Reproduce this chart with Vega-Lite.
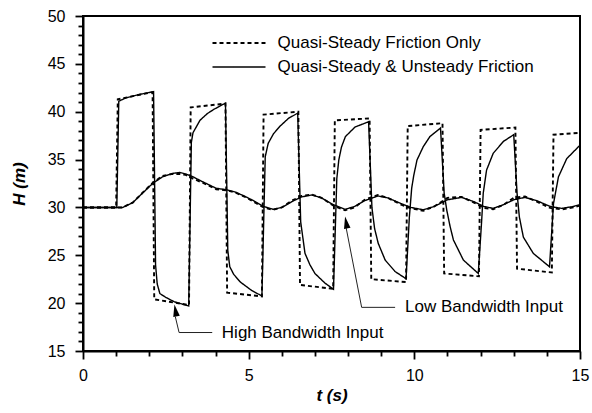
{
  "$schema": "https://vega.github.io/schema/vega-lite/v6.json",
  "width": 497,
  "height": 335,
  "autosize": {"type": "none"},
  "padding": {"left": 83, "top": 16, "right": 12, "bottom": 62},
  "background": "white",
  "config": {
    "view": {"stroke": "black", "strokeWidth": 2},
    "axis": {
      "domainColor": "black", "domainWidth": 2,
      "tickColor": "black", "tickWidth": 1.8,
      "labelFont": "Liberation Sans", "labelFontSize": 16, "labelColor": "black",
      "titleFont": "Liberation Sans", "titleFontSize": 17, "titleFontWeight": "bold", "titleFontStyle": "italic", "titleColor": "black",
      "grid": false
    },
    "legend": {
      "labelFont": "Liberation Sans", "labelFontSize": 17, "labelColor": "black", "labelLimit": 0
    }
  },
  "datasets": {
    "curves": [
      {"t": 0, "H": 30, "model": "Quasi-Steady Friction Only", "input": "High"},
      {"t": 1.0, "H": 30, "model": "Quasi-Steady Friction Only", "input": "High"},
      {"t": 1.05, "H": 41.3, "model": "Quasi-Steady Friction Only", "input": "High"},
      {"t": 2.1, "H": 42.05, "model": "Quasi-Steady Friction Only", "input": "High"},
      {"t": 2.15, "H": 20.4, "model": "Quasi-Steady Friction Only", "input": "High"},
      {"t": 3.2, "H": 19.8, "model": "Quasi-Steady Friction Only", "input": "High"},
      {"t": 3.25, "H": 40.45, "model": "Quasi-Steady Friction Only", "input": "High"},
      {"t": 4.3, "H": 40.85, "model": "Quasi-Steady Friction Only", "input": "High"},
      {"t": 4.35, "H": 21.1, "model": "Quasi-Steady Friction Only", "input": "High"},
      {"t": 5.4, "H": 20.7, "model": "Quasi-Steady Friction Only", "input": "High"},
      {"t": 5.45, "H": 39.7, "model": "Quasi-Steady Friction Only", "input": "High"},
      {"t": 6.5, "H": 40.0, "model": "Quasi-Steady Friction Only", "input": "High"},
      {"t": 6.55, "H": 21.9, "model": "Quasi-Steady Friction Only", "input": "High"},
      {"t": 7.55, "H": 21.5, "model": "Quasi-Steady Friction Only", "input": "High"},
      {"t": 7.6, "H": 39.1, "model": "Quasi-Steady Friction Only", "input": "High"},
      {"t": 8.65, "H": 39.3, "model": "Quasi-Steady Friction Only", "input": "High"},
      {"t": 8.7, "H": 22.5, "model": "Quasi-Steady Friction Only", "input": "High"},
      {"t": 9.75, "H": 22.2, "model": "Quasi-Steady Friction Only", "input": "High"},
      {"t": 9.8, "H": 38.5, "model": "Quasi-Steady Friction Only", "input": "High"},
      {"t": 10.85, "H": 38.8, "model": "Quasi-Steady Friction Only", "input": "High"},
      {"t": 10.9, "H": 23.1, "model": "Quasi-Steady Friction Only", "input": "High"},
      {"t": 11.95, "H": 22.8, "model": "Quasi-Steady Friction Only", "input": "High"},
      {"t": 12.0, "H": 38.1, "model": "Quasi-Steady Friction Only", "input": "High"},
      {"t": 13.05, "H": 38.35, "model": "Quasi-Steady Friction Only", "input": "High"},
      {"t": 13.1, "H": 23.6, "model": "Quasi-Steady Friction Only", "input": "High"},
      {"t": 14.15, "H": 23.2, "model": "Quasi-Steady Friction Only", "input": "High"},
      {"t": 14.2, "H": 37.6, "model": "Quasi-Steady Friction Only", "input": "High"},
      {"t": 15.0, "H": 37.8, "model": "Quasi-Steady Friction Only", "input": "High"},

      {"t": 0, "H": 30, "model": "Quasi-Steady & Unsteady Friction", "input": "High"},
      {"t": 1.02, "H": 30, "model": "Quasi-Steady & Unsteady Friction", "input": "High"},
      {"t": 1.08, "H": 41.1, "model": "Quasi-Steady & Unsteady Friction", "input": "High"},
      {"t": 1.3, "H": 41.45, "model": "Quasi-Steady & Unsteady Friction", "input": "High"},
      {"t": 1.7, "H": 41.8, "model": "Quasi-Steady & Unsteady Friction", "input": "High"},
      {"t": 2.13, "H": 42.1, "model": "Quasi-Steady & Unsteady Friction", "input": "High"},
      {"t": 2.19, "H": 24.0, "model": "Quasi-Steady & Unsteady Friction", "input": "High"},
      {"t": 2.24, "H": 22.0, "model": "Quasi-Steady & Unsteady Friction", "input": "High"},
      {"t": 2.32, "H": 21.0, "model": "Quasi-Steady & Unsteady Friction", "input": "High"},
      {"t": 2.5, "H": 20.6, "model": "Quasi-Steady & Unsteady Friction", "input": "High"},
      {"t": 2.75, "H": 20.15, "model": "Quasi-Steady & Unsteady Friction", "input": "High"},
      {"t": 3.19, "H": 19.7, "model": "Quasi-Steady & Unsteady Friction", "input": "High"},
      {"t": 3.27, "H": 36.8, "model": "Quasi-Steady & Unsteady Friction", "input": "High"},
      {"t": 3.32, "H": 37.8, "model": "Quasi-Steady & Unsteady Friction", "input": "High"},
      {"t": 3.53, "H": 39.1, "model": "Quasi-Steady & Unsteady Friction", "input": "High"},
      {"t": 3.75, "H": 39.8, "model": "Quasi-Steady & Unsteady Friction", "input": "High"},
      {"t": 3.95, "H": 40.25, "model": "Quasi-Steady & Unsteady Friction", "input": "High"},
      {"t": 4.3, "H": 40.9, "model": "Quasi-Steady & Unsteady Friction", "input": "High"},
      {"t": 4.37, "H": 25.5, "model": "Quasi-Steady & Unsteady Friction", "input": "High"},
      {"t": 4.43, "H": 23.8, "model": "Quasi-Steady & Unsteady Friction", "input": "High"},
      {"t": 4.55, "H": 23.0, "model": "Quasi-Steady & Unsteady Friction", "input": "High"},
      {"t": 4.75, "H": 22.2, "model": "Quasi-Steady & Unsteady Friction", "input": "High"},
      {"t": 5.1, "H": 21.3, "model": "Quasi-Steady & Unsteady Friction", "input": "High"},
      {"t": 5.4, "H": 20.75, "model": "Quasi-Steady & Unsteady Friction", "input": "High"},
      {"t": 5.5, "H": 35.3, "model": "Quasi-Steady & Unsteady Friction", "input": "High"},
      {"t": 5.59, "H": 36.7, "model": "Quasi-Steady & Unsteady Friction", "input": "High"},
      {"t": 5.75, "H": 37.7, "model": "Quasi-Steady & Unsteady Friction", "input": "High"},
      {"t": 5.95, "H": 38.5, "model": "Quasi-Steady & Unsteady Friction", "input": "High"},
      {"t": 6.2, "H": 39.3, "model": "Quasi-Steady & Unsteady Friction", "input": "High"},
      {"t": 6.48, "H": 39.85, "model": "Quasi-Steady & Unsteady Friction", "input": "High"},
      {"t": 6.57, "H": 28.5, "model": "Quasi-Steady & Unsteady Friction", "input": "High"},
      {"t": 6.7, "H": 25.2, "model": "Quasi-Steady & Unsteady Friction", "input": "High"},
      {"t": 6.85, "H": 24.0, "model": "Quasi-Steady & Unsteady Friction", "input": "High"},
      {"t": 7.0, "H": 23.1, "model": "Quasi-Steady & Unsteady Friction", "input": "High"},
      {"t": 7.3, "H": 22.1, "model": "Quasi-Steady & Unsteady Friction", "input": "High"},
      {"t": 7.56, "H": 21.45, "model": "Quasi-Steady & Unsteady Friction", "input": "High"},
      {"t": 7.66, "H": 33.0, "model": "Quasi-Steady & Unsteady Friction", "input": "High"},
      {"t": 7.72, "H": 34.95, "model": "Quasi-Steady & Unsteady Friction", "input": "High"},
      {"t": 7.8, "H": 36.3, "model": "Quasi-Steady & Unsteady Friction", "input": "High"},
      {"t": 7.92, "H": 37.4, "model": "Quasi-Steady & Unsteady Friction", "input": "High"},
      {"t": 8.21, "H": 38.4, "model": "Quasi-Steady & Unsteady Friction", "input": "High"},
      {"t": 8.62, "H": 38.95, "model": "Quasi-Steady & Unsteady Friction", "input": "High"},
      {"t": 8.72, "H": 30.0, "model": "Quasi-Steady & Unsteady Friction", "input": "High"},
      {"t": 8.8, "H": 27.8, "model": "Quasi-Steady & Unsteady Friction", "input": "High"},
      {"t": 8.91, "H": 26.25, "model": "Quasi-Steady & Unsteady Friction", "input": "High"},
      {"t": 9.12, "H": 24.5, "model": "Quasi-Steady & Unsteady Friction", "input": "High"},
      {"t": 9.42, "H": 23.3, "model": "Quasi-Steady & Unsteady Friction", "input": "High"},
      {"t": 9.75, "H": 22.55, "model": "Quasi-Steady & Unsteady Friction", "input": "High"},
      {"t": 9.85, "H": 29.0, "model": "Quasi-Steady & Unsteady Friction", "input": "High"},
      {"t": 9.92, "H": 32.0, "model": "Quasi-Steady & Unsteady Friction", "input": "High"},
      {"t": 9.98, "H": 33.3, "model": "Quasi-Steady & Unsteady Friction", "input": "High"},
      {"t": 10.08, "H": 34.95, "model": "Quasi-Steady & Unsteady Friction", "input": "High"},
      {"t": 10.27, "H": 36.35, "model": "Quasi-Steady & Unsteady Friction", "input": "High"},
      {"t": 10.47, "H": 37.4, "model": "Quasi-Steady & Unsteady Friction", "input": "High"},
      {"t": 10.79, "H": 38.3, "model": "Quasi-Steady & Unsteady Friction", "input": "High"},
      {"t": 10.9, "H": 31.5, "model": "Quasi-Steady & Unsteady Friction", "input": "High"},
      {"t": 10.98, "H": 29.7, "model": "Quasi-Steady & Unsteady Friction", "input": "High"},
      {"t": 11.08, "H": 28.0, "model": "Quasi-Steady & Unsteady Friction", "input": "High"},
      {"t": 11.18, "H": 26.6, "model": "Quasi-Steady & Unsteady Friction", "input": "High"},
      {"t": 11.48, "H": 24.5, "model": "Quasi-Steady & Unsteady Friction", "input": "High"},
      {"t": 11.93, "H": 23.1, "model": "Quasi-Steady & Unsteady Friction", "input": "High"},
      {"t": 12.03, "H": 28.5, "model": "Quasi-Steady & Unsteady Friction", "input": "High"},
      {"t": 12.08, "H": 31.5, "model": "Quasi-Steady & Unsteady Friction", "input": "High"},
      {"t": 12.18, "H": 33.9, "model": "Quasi-Steady & Unsteady Friction", "input": "High"},
      {"t": 12.38, "H": 35.65, "model": "Quasi-Steady & Unsteady Friction", "input": "High"},
      {"t": 12.69, "H": 36.9, "model": "Quasi-Steady & Unsteady Friction", "input": "High"},
      {"t": 13.0, "H": 37.6, "model": "Quasi-Steady & Unsteady Friction", "input": "High"},
      {"t": 13.1, "H": 31.5, "model": "Quasi-Steady & Unsteady Friction", "input": "High"},
      {"t": 13.17, "H": 29.0, "model": "Quasi-Steady & Unsteady Friction", "input": "High"},
      {"t": 13.29, "H": 26.9, "model": "Quasi-Steady & Unsteady Friction", "input": "High"},
      {"t": 13.59, "H": 25.2, "model": "Quasi-Steady & Unsteady Friction", "input": "High"},
      {"t": 14.08, "H": 23.8, "model": "Quasi-Steady & Unsteady Friction", "input": "High"},
      {"t": 14.2, "H": 30.4, "model": "Quasi-Steady & Unsteady Friction", "input": "High"},
      {"t": 14.35, "H": 33.2, "model": "Quasi-Steady & Unsteady Friction", "input": "High"},
      {"t": 14.6, "H": 35.1, "model": "Quasi-Steady & Unsteady Friction", "input": "High"},
      {"t": 15.0, "H": 36.5, "model": "Quasi-Steady & Unsteady Friction", "input": "High"},

      {"t": 0, "H": 30, "model": "Quasi-Steady & Unsteady Friction", "input": "Low"},
      {"t": 1.2, "H": 30, "model": "Quasi-Steady & Unsteady Friction", "input": "Low"},
      {"t": 1.5, "H": 30.5, "model": "Quasi-Steady & Unsteady Friction", "input": "Low"},
      {"t": 1.8, "H": 31.5, "model": "Quasi-Steady & Unsteady Friction", "input": "Low"},
      {"t": 2.1, "H": 32.5, "model": "Quasi-Steady & Unsteady Friction", "input": "Low"},
      {"t": 2.4, "H": 33.2, "model": "Quasi-Steady & Unsteady Friction", "input": "Low"},
      {"t": 2.7, "H": 33.55, "model": "Quasi-Steady & Unsteady Friction", "input": "Low"},
      {"t": 2.92, "H": 33.65, "model": "Quasi-Steady & Unsteady Friction", "input": "Low"},
      {"t": 3.1, "H": 33.5, "model": "Quasi-Steady & Unsteady Friction", "input": "Low"},
      {"t": 3.32, "H": 33.2, "model": "Quasi-Steady & Unsteady Friction", "input": "Low"},
      {"t": 3.6, "H": 32.7, "model": "Quasi-Steady & Unsteady Friction", "input": "Low"},
      {"t": 4.02, "H": 32.0, "model": "Quasi-Steady & Unsteady Friction", "input": "Low"},
      {"t": 4.32, "H": 31.85, "model": "Quasi-Steady & Unsteady Friction", "input": "Low"},
      {"t": 4.6, "H": 31.6, "model": "Quasi-Steady & Unsteady Friction", "input": "Low"},
      {"t": 4.89, "H": 31.15, "model": "Quasi-Steady & Unsteady Friction", "input": "Low"},
      {"t": 5.15, "H": 30.7, "model": "Quasi-Steady & Unsteady Friction", "input": "Low"},
      {"t": 5.45, "H": 30.1, "model": "Quasi-Steady & Unsteady Friction", "input": "Low"},
      {"t": 5.74, "H": 29.8, "model": "Quasi-Steady & Unsteady Friction", "input": "Low"},
      {"t": 6.0, "H": 30.0, "model": "Quasi-Steady & Unsteady Friction", "input": "Low"},
      {"t": 6.3, "H": 30.6, "model": "Quasi-Steady & Unsteady Friction", "input": "Low"},
      {"t": 6.6, "H": 31.1, "model": "Quasi-Steady & Unsteady Friction", "input": "Low"},
      {"t": 6.9, "H": 31.3, "model": "Quasi-Steady & Unsteady Friction", "input": "Low"},
      {"t": 7.2, "H": 31.0, "model": "Quasi-Steady & Unsteady Friction", "input": "Low"},
      {"t": 7.55, "H": 30.3, "model": "Quasi-Steady & Unsteady Friction", "input": "Low"},
      {"t": 7.91, "H": 29.8, "model": "Quasi-Steady & Unsteady Friction", "input": "Low"},
      {"t": 8.2, "H": 30.1, "model": "Quasi-Steady & Unsteady Friction", "input": "Low"},
      {"t": 8.5, "H": 30.7, "model": "Quasi-Steady & Unsteady Friction", "input": "Low"},
      {"t": 8.9, "H": 31.2, "model": "Quasi-Steady & Unsteady Friction", "input": "Low"},
      {"t": 9.2, "H": 31.0, "model": "Quasi-Steady & Unsteady Friction", "input": "Low"},
      {"t": 9.6, "H": 30.4, "model": "Quasi-Steady & Unsteady Friction", "input": "Low"},
      {"t": 9.9, "H": 30.0, "model": "Quasi-Steady & Unsteady Friction", "input": "Low"},
      {"t": 10.27, "H": 29.75, "model": "Quasi-Steady & Unsteady Friction", "input": "Low"},
      {"t": 10.6, "H": 30.1, "model": "Quasi-Steady & Unsteady Friction", "input": "Low"},
      {"t": 11.0, "H": 30.8, "model": "Quasi-Steady & Unsteady Friction", "input": "Low"},
      {"t": 11.43, "H": 31.05, "model": "Quasi-Steady & Unsteady Friction", "input": "Low"},
      {"t": 11.8, "H": 30.6, "model": "Quasi-Steady & Unsteady Friction", "input": "Low"},
      {"t": 12.1, "H": 30.1, "model": "Quasi-Steady & Unsteady Friction", "input": "Low"},
      {"t": 12.38, "H": 29.9, "model": "Quasi-Steady & Unsteady Friction", "input": "Low"},
      {"t": 12.7, "H": 30.3, "model": "Quasi-Steady & Unsteady Friction", "input": "Low"},
      {"t": 13.0, "H": 30.8, "model": "Quasi-Steady & Unsteady Friction", "input": "Low"},
      {"t": 13.34, "H": 31.05, "model": "Quasi-Steady & Unsteady Friction", "input": "Low"},
      {"t": 13.7, "H": 30.7, "model": "Quasi-Steady & Unsteady Friction", "input": "Low"},
      {"t": 14.1, "H": 30.1, "model": "Quasi-Steady & Unsteady Friction", "input": "Low"},
      {"t": 14.45, "H": 29.9, "model": "Quasi-Steady & Unsteady Friction", "input": "Low"},
      {"t": 14.8, "H": 30.1, "model": "Quasi-Steady & Unsteady Friction", "input": "Low"},
      {"t": 15.0, "H": 30.3, "model": "Quasi-Steady & Unsteady Friction", "input": "Low"},

      {"t": 0, "H": 30, "model": "Quasi-Steady Friction Only", "input": "Low"},
      {"t": 1.2, "H": 30, "model": "Quasi-Steady Friction Only", "input": "Low"},
      {"t": 1.5, "H": 30.5, "model": "Quasi-Steady Friction Only", "input": "Low"},
      {"t": 1.8, "H": 31.55, "model": "Quasi-Steady Friction Only", "input": "Low"},
      {"t": 2.1, "H": 32.55, "model": "Quasi-Steady Friction Only", "input": "Low"},
      {"t": 2.4, "H": 33.3, "model": "Quasi-Steady Friction Only", "input": "Low"},
      {"t": 2.7, "H": 33.5, "model": "Quasi-Steady Friction Only", "input": "Low"},
      {"t": 2.92, "H": 33.5, "model": "Quasi-Steady Friction Only", "input": "Low"},
      {"t": 3.1, "H": 33.4, "model": "Quasi-Steady Friction Only", "input": "Low"},
      {"t": 3.32, "H": 33.0, "model": "Quasi-Steady Friction Only", "input": "Low"},
      {"t": 3.6, "H": 32.6, "model": "Quasi-Steady Friction Only", "input": "Low"},
      {"t": 4.02, "H": 31.9, "model": "Quasi-Steady Friction Only", "input": "Low"},
      {"t": 4.32, "H": 31.8, "model": "Quasi-Steady Friction Only", "input": "Low"},
      {"t": 4.6, "H": 31.55, "model": "Quasi-Steady Friction Only", "input": "Low"},
      {"t": 4.89, "H": 31.1, "model": "Quasi-Steady Friction Only", "input": "Low"},
      {"t": 5.15, "H": 30.6, "model": "Quasi-Steady Friction Only", "input": "Low"},
      {"t": 5.45, "H": 30.0, "model": "Quasi-Steady Friction Only", "input": "Low"},
      {"t": 5.74, "H": 29.75, "model": "Quasi-Steady Friction Only", "input": "Low"},
      {"t": 6.0, "H": 30.0, "model": "Quasi-Steady Friction Only", "input": "Low"},
      {"t": 6.3, "H": 30.7, "model": "Quasi-Steady Friction Only", "input": "Low"},
      {"t": 6.6, "H": 31.2, "model": "Quasi-Steady Friction Only", "input": "Low"},
      {"t": 6.9, "H": 31.35, "model": "Quasi-Steady Friction Only", "input": "Low"},
      {"t": 7.2, "H": 31.0, "model": "Quasi-Steady Friction Only", "input": "Low"},
      {"t": 7.55, "H": 30.2, "model": "Quasi-Steady Friction Only", "input": "Low"},
      {"t": 7.91, "H": 29.7, "model": "Quasi-Steady Friction Only", "input": "Low"},
      {"t": 8.2, "H": 30.0, "model": "Quasi-Steady Friction Only", "input": "Low"},
      {"t": 8.5, "H": 30.8, "model": "Quasi-Steady Friction Only", "input": "Low"},
      {"t": 8.9, "H": 31.3, "model": "Quasi-Steady Friction Only", "input": "Low"},
      {"t": 9.2, "H": 31.0, "model": "Quasi-Steady Friction Only", "input": "Low"},
      {"t": 9.6, "H": 30.3, "model": "Quasi-Steady Friction Only", "input": "Low"},
      {"t": 9.9, "H": 29.9, "model": "Quasi-Steady Friction Only", "input": "Low"},
      {"t": 10.27, "H": 29.65, "model": "Quasi-Steady Friction Only", "input": "Low"},
      {"t": 10.6, "H": 30.1, "model": "Quasi-Steady Friction Only", "input": "Low"},
      {"t": 11.0, "H": 31.0, "model": "Quasi-Steady Friction Only", "input": "Low"},
      {"t": 11.43, "H": 31.1, "model": "Quasi-Steady Friction Only", "input": "Low"},
      {"t": 11.8, "H": 30.5, "model": "Quasi-Steady Friction Only", "input": "Low"},
      {"t": 12.1, "H": 29.95, "model": "Quasi-Steady Friction Only", "input": "Low"},
      {"t": 12.38, "H": 29.8, "model": "Quasi-Steady Friction Only", "input": "Low"},
      {"t": 12.7, "H": 30.3, "model": "Quasi-Steady Friction Only", "input": "Low"},
      {"t": 13.0, "H": 31.0, "model": "Quasi-Steady Friction Only", "input": "Low"},
      {"t": 13.34, "H": 31.15, "model": "Quasi-Steady Friction Only", "input": "Low"},
      {"t": 13.7, "H": 30.6, "model": "Quasi-Steady Friction Only", "input": "Low"},
      {"t": 14.1, "H": 29.95, "model": "Quasi-Steady Friction Only", "input": "Low"},
      {"t": 14.45, "H": 29.8, "model": "Quasi-Steady Friction Only", "input": "Low"},
      {"t": 14.8, "H": 30.0, "model": "Quasi-Steady Friction Only", "input": "Low"},
      {"t": 15.0, "H": 30.2, "model": "Quasi-Steady Friction Only", "input": "Low"}
    ],
    "labels": [
      {"t": 4.19, "H": 16.93, "text": "High Bandwidth Input"},
      {"t": 9.72, "H": 19.56, "text": "Low Bandwidth Input"}
    ],
    "leaders": [
      {"t": 3.9, "H": 16.93, "which": "High"},
      {"t": 2.9, "H": 16.93, "which": "High"},
      {"t": 2.785, "H": 18.6, "which": "High"},
      {"t": 9.42, "H": 19.56, "which": "Low"},
      {"t": 8.41, "H": 19.56, "which": "Low"},
      {"t": 7.94, "H": 27.9, "which": "Low"}
    ],
    "arrows": [
      {"t": 2.76, "H": 19.85, "angle": -10},
      {"t": 7.91, "H": 29.05, "angle": -10.4}
    ]
  },
  "encoding": {
    "x": {
      "field": "t", "type": "quantitative",
      "scale": {"domain": [0, 15], "nice": false, "zero": false},
      "axis": {
        "title": "t  (s)",
        "values": [0,1,2,3,4,5,6,7,8,9,10,11,12,13,14,15],
        "labelExpr": "datum.value % 5 === 0 ? datum.label : ''",
        "labelOverlap": false, "labelFlush": false, "labelBound": false,
        "tickSize": {"condition": {"test": "datum.value % 5 === 0", "value": 8}, "value": 5},
        "labelPadding": 8,
        "titlePadding": 4
      }
    },
    "y": {
      "field": "H", "type": "quantitative",
      "scale": {"domain": [15, 50], "nice": false, "zero": false},
      "axis": {
        "title": "H  (m)",
        "values": [15,16,17,18,19,20,21,22,23,24,25,26,27,28,29,30,31,32,33,34,35,36,37,38,39,40,41,42,43,44,45,46,47,48,49,50],
        "labelExpr": "datum.value % 5 === 0 ? datum.label : ''",
        "labelOverlap": false, "labelFlush": false, "labelBound": false,
        "tickSize": {"condition": {"test": "datum.value % 5 === 0", "value": 8}, "value": 5},
        "labelPadding": 10,
        "titlePadding": 19
      }
    }
  },
  "layer": [
    {
      "data": {"name": "curves"},
      "mark": {"type": "line", "color": "black", "clip": true},
      "encoding": {
        "detail": {"field": "input"},
        "strokeWidth": {
          "field": "model", "type": "nominal",
          "scale": {"domain": ["Quasi-Steady Friction Only", "Quasi-Steady & Unsteady Friction"], "range": [1.9, 1.4]},
          "legend": null
        },
        "strokeDash": {
          "field": "model", "type": "nominal",
          "scale": {"domain": ["Quasi-Steady Friction Only", "Quasi-Steady & Unsteady Friction"], "range": [[4, 3], [1, 0]]},
          "legend": {
            "title": null,
            "orient": "none",
            "legendX": 146,
            "legendY": 17,
            "padding": 0,
            "symbolType": "M-3,0H3",
            "symbolSize": 312,
            "symbolStrokeWidth": 1.6,
            "symbolStrokeColor": "black",
            "symbolFillColor": "transparent",
            "labelOffset": 28.6,
            "rowPadding": 6
          }
        }
      }
    },
    {
      "data": {"name": "leaders"},
      "mark": {"type": "line", "color": "#222222", "strokeWidth": 1},
      "encoding": {
        "detail": {"field": "which"}
      }
    },
    {
      "data": {"name": "arrows"},
      "mark": {"type": "point", "shape": "M0,0L0.55,2L-0.55,2Z", "filled": true, "color": "black", "size": 144, "opacity": 1},
      "encoding": {
        "angle": {"field": "angle", "type": "quantitative", "scale": null}
      }
    },
    {
      "data": {"name": "labels"},
      "mark": {"type": "text", "align": "left", "baseline": "middle", "font": "Liberation Sans", "fontSize": 17, "color": "black"},
      "encoding": {
        "text": {"field": "text"}
      }
    }
  ]
}
